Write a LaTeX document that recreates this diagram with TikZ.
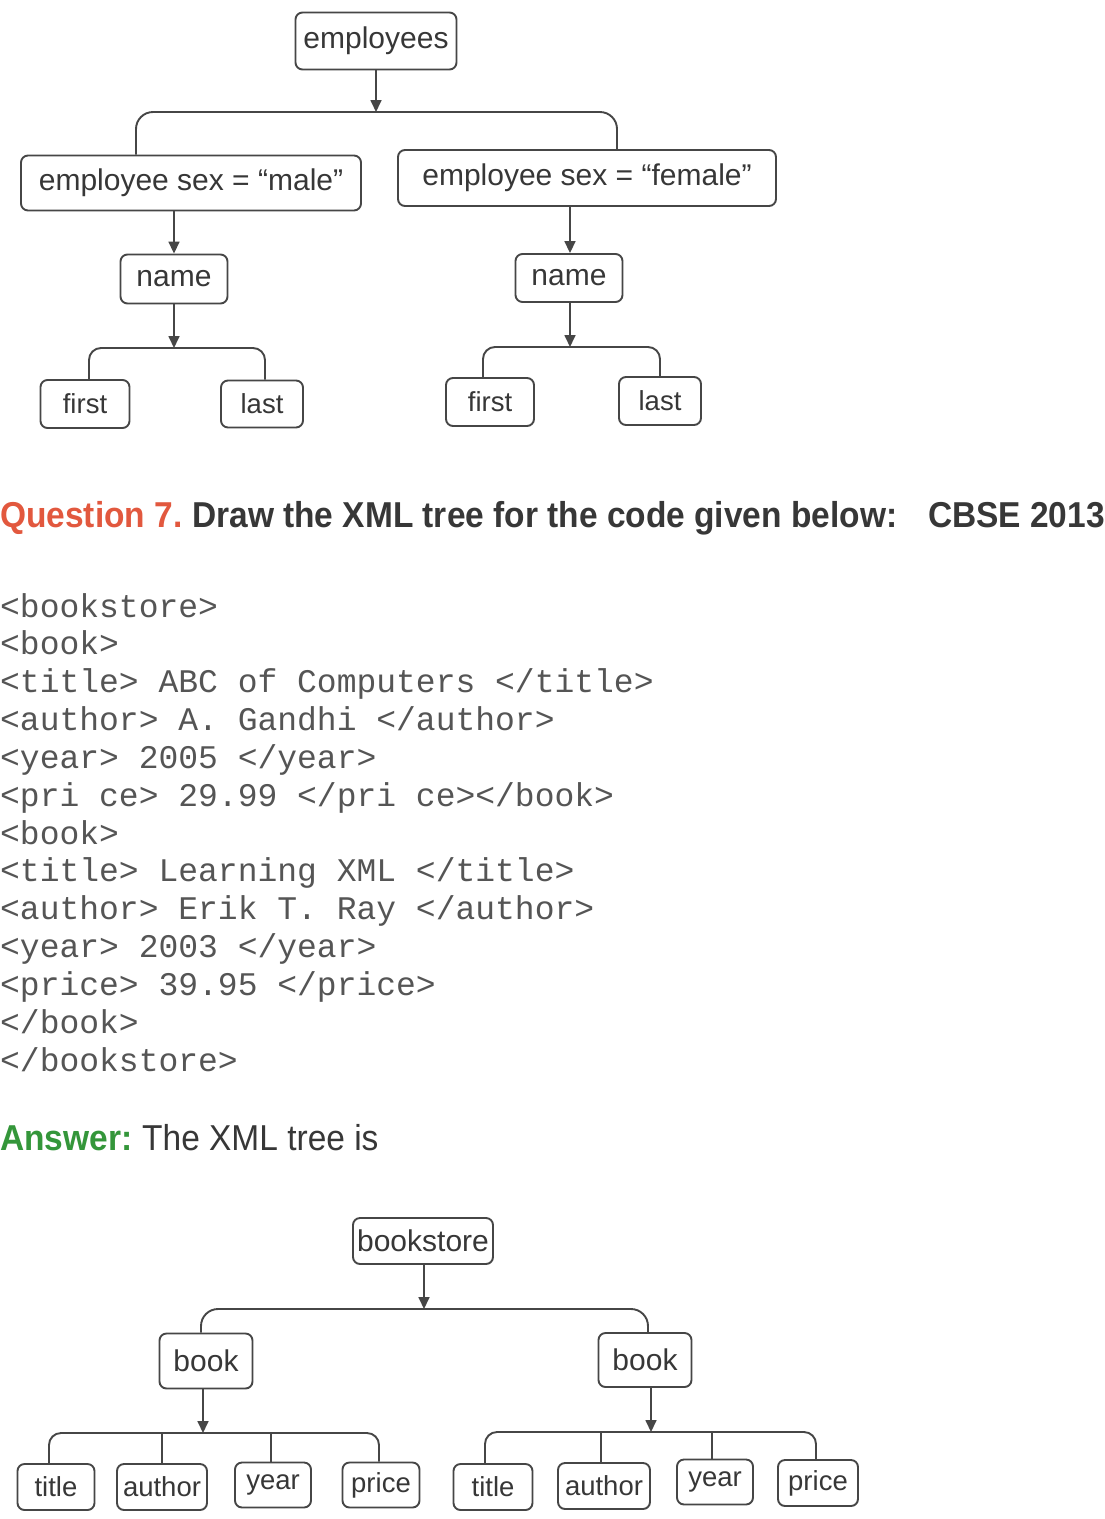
\documentclass[tikz,border=0pt]{standalone}
\usepackage{fontspec}
\usetikzlibrary{arrows.meta}
\newfontfamily\hv{Liberation Sans}
\newfontfamily\hvc[FakeStretch=0.93]{Liberation Sans}
\newfontfamily\cour{Liberation Mono}
\definecolor{ink}{RGB}{55,55,55}
\definecolor{edge}{RGB}{70,70,70}
\definecolor{qred}{RGB}{226,88,62}
\definecolor{agreen}{RGB}{52,150,58}
\definecolor{code}{RGB}{85,85,85}
\begin{document}
\begin{tikzpicture}[x=1pt,y=-1pt,
  bx/.style={draw=edge,line width=1.9pt,rounded corners=7pt,inner sep=0pt,text=ink,
    font=\hv\fontsize{30}{30}\selectfont},
  lf/.style={bx,font=\hv\fontsize{27.5}{27.5}\selectfont},
  arr/.style={draw=edge,line width=1.7pt,-{Triangle[length=12pt,width=11pt]}},
  br/.style={draw=edge,line width=1.9pt,rounded corners=17pt},
  brs/.style={draw=edge,line width=1.9pt,rounded corners=12pt},
  codeline/.style={anchor=base west,inner sep=0pt,text=code,font=\cour\fontsize{33}{33}\selectfont}]
\useasboundingbox (0,0) rectangle (1105,1519);
\fill[white] (0,0) rectangle (1105,1519);
% ---------- top tree ----------
\node[bx,minimum width=161pt,minimum height=57pt] (emp) at (376,41) {employees};
\node[bx,minimum width=340pt,minimum height=55pt] (male) at (191,183) {employee sex = “male”};
\node[bx,minimum width=378pt,minimum height=56pt] (female) at (587,178) {employee sex = “female”};
\node[bx,minimum width=107pt,minimum height=49pt] (nameL) at (174,279) {name};
\node[bx,minimum width=107pt,minimum height=48pt] (nameR) at (569,278) {name};
\node[lf,minimum width=89pt,minimum height=48pt] (firstL) at (85,404) {first};
\node[lf,minimum width=82pt,minimum height=47pt] (lastL) at (262,404) {last};
\node[lf,minimum width=88pt,minimum height=48pt] (firstR) at (490,402) {first};
\node[lf,minimum width=82pt,minimum height=48pt] (lastR) at (660,401) {last};
\coordinate (j1) at (376,112);
\coordinate (j2) at (174,348);
\coordinate (j3) at (570,347);
\draw[arr] (emp.south) -- (j1);
\draw[br] ([xshift=-55pt]male.north) |- (j1) -| ([xshift=30pt]female.north);
\draw[arr] (male.south -| nameL.north) -- (nameL.north);
\draw[arr] (nameL.south) -- (j2);
\draw[brs] ([xshift=4pt]firstL.north) |- (j2) -| ([xshift=3pt]lastL.north);
\draw[arr] (female.south -| j3) -- (j3 |- nameR.north);
\draw[arr] (nameR.south -| j3) -- (j3);
\draw[brs] ([xshift=-7pt]firstR.north) |- (j3) -| (lastR.north);
% ---------- question ----------
\node[anchor=base west,inner sep=0pt,text=qred,font=\hvc\bfseries\fontsize{36}{36}\selectfont] (q) at (0,527) {Question 7.};
\node[anchor=base west,inner sep=0pt,text=ink,font=\hvc\bfseries\fontsize{36}{36}\selectfont] (qt) at (192,527) {Draw the XML tree for the code given below:};
\node[anchor=base east,inner sep=0pt,text=ink,font=\hvc\bfseries\fontsize{36}{36}\selectfont] (cbse) at (1105,527) {CBSE 2013};
% ---------- code ----------
\node[codeline] (c1) at (0,617) {<bookstore>};
\node[codeline] (c2) at (0,654.8) {<book>};
\node[codeline] (c3) at (0,692.7) {<title> ABC of Computers </title>};
\node[codeline] (c4) at (0,730.5) {<author> A. Gandhi </author>};
\node[codeline] (c5) at (0,768.3) {<year> 2005 </year>};
\node[codeline] (c6) at (0,806.2) {<pri ce> 29.99 </pri ce></book>};
\node[codeline] (c7) at (0,844) {<book>};
\node[codeline] (c8) at (0,881.8) {<title> Learning XML </title>};
\node[codeline] (c9) at (0,919.6) {<author> Erik T. Ray </author>};
\node[codeline] (c10) at (0,957.5) {<year> 2003 </year>};
\node[codeline] (c11) at (0,995.3) {<price> 39.95 </price>};
\node[codeline] (c12) at (0,1033.1) {</book>};
\node[codeline] (c13) at (0,1071) {</bookstore>};
% ---------- answer ----------
\node[anchor=base west,inner sep=0pt,text=agreen,font=\hvc\bfseries\fontsize{36}{36}\selectfont] (ans) at (0,1150) {Answer:};
\node[anchor=base west,inner sep=0pt,text=ink,font=\hvc\fontsize{36}{36}\selectfont] (anst) at (142,1150) {The XML tree is};
% ---------- bottom tree ----------
\node[bx,minimum width=140pt,minimum height=46pt] (bs) at (423,1241) {bookstore};
\node[bx,minimum width=93pt,minimum height=55pt] (bookL) at (206,1361) {book};
\node[bx,minimum width=93pt,minimum height=54pt] (bookR) at (645,1360) {book};
\node[lf,minimum width=77pt,minimum height=46pt] (titleL) at (56,1487) {title};
\node[lf,minimum width=90pt,minimum height=46pt] (authorL) at (162,1487) {author};
\node[lf,minimum width=76pt,minimum height=45pt] (yearL) at (273,1485) {year};
\node[lf,minimum width=77pt,minimum height=45pt] (priceL) at (381,1485) {price};
\node[lf,minimum width=79pt,minimum height=46pt] (titleR) at (493,1487) {title};
\node[lf,minimum width=92pt,minimum height=46pt] (authorR) at (604,1486) {author};
\node[lf,minimum width=76pt,minimum height=45pt] (yearR) at (715,1482) {year};
\node[lf,minimum width=80pt,minimum height=46pt] (priceR) at (818,1483) {price};
\coordinate (j4) at (424,1309);
\coordinate (j5) at (203,1433);
\coordinate (j6) at (651,1432);
\draw[arr] (bs.south -| j4) -- (j4);
\draw[br] ([xshift=-5pt]bookL.north) |- (j4) -| ([xshift=3pt]bookR.north);
\draw[arr] (bookL.south -| j5) -- (j5);
\draw[brs] ([xshift=-7pt]titleL.north) |- (j5) -| ([xshift=-2pt]priceL.north);
\draw[brs] (authorL.north) -- (authorL.north |- j5);
\draw[brs] ([xshift=-2pt]yearL.north) -- ([xshift=-2pt]yearL.north |- j5);
\draw[arr] (bookR.south -| j6) -- (j6);
\draw[brs] ([xshift=-8pt]titleR.north) |- (j6) -| ([xshift=-2pt]priceR.north);
\draw[brs] ([xshift=-3pt]authorR.north) -- ([xshift=-3pt]authorR.north |- j6);
\draw[brs] ([xshift=-3pt]yearR.north) -- ([xshift=-3pt]yearR.north |- j6);
\end{tikzpicture}
\end{document}
